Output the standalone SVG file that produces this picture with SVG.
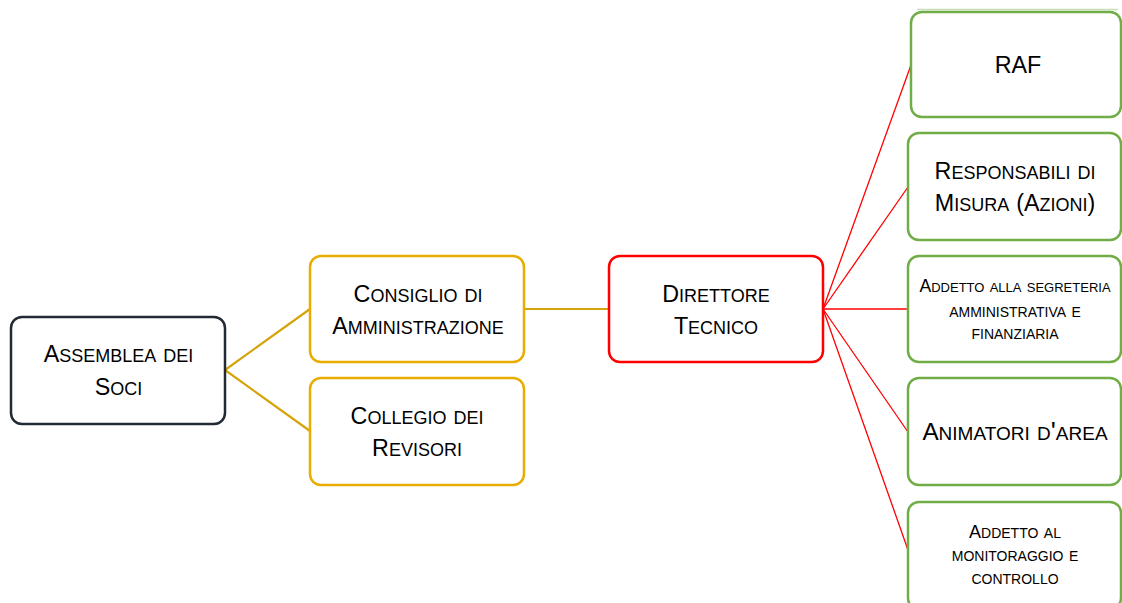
<svg xmlns="http://www.w3.org/2000/svg" width="1122" height="603" viewBox="0 0 1122 603">
  <style>
    .box { fill: #ffffff; stroke-width: 2.5; }
    .dark { stroke: #222a35; }
    .gold { stroke: #e8ad00; }
    .red { stroke: #ff0000; }
    .green { stroke: #70ad47; }
    .t { font-family: "Liberation Sans", Arial, sans-serif; font-variant: small-caps; text-anchor: middle; fill: #000000; font-size: 25.3px; }
    .t .c { font-size: 23.3px; }
    .ts { font-family: "Liberation Sans", Arial, sans-serif; font-variant: small-caps; text-anchor: middle; fill: #000000; font-size: 19.6px; }
    .ts .c { font-size: 18px; }
    .lg { stroke: #d6a40a; stroke-width: 2.2; fill: none; }
    .lr { stroke: #ff0000; stroke-width: 1.3; fill: none; }
  </style>
  <rect width="1122" height="603" fill="#ffffff"/>
  <g id="connectors">
    <path class="lg" d="M225 370 L310 309"/>
    <path class="lg" d="M225 370 L310 431"/>
    <path class="lg" d="M524 309 L609 309"/>
    <path class="lr" d="M823 309 L911 65"/>
    <path class="lr" d="M823 309 L908 187"/>
    <path class="lr" d="M823 309 L908 309"/>
    <path class="lr" d="M823 309 L908 432"/>
    <path class="lr" d="M823 309 L908 550"/>
  </g>
  <g id="assemblea">
    <rect class="box dark" x="11" y="317" width="214" height="107" rx="11"/>
    <text class="t" x="118.5" y="362"><tspan class="c">A</tspan>ssemblea dei</text>
    <text class="t" x="118.5" y="395"><tspan class="c">S</tspan>oci</text>
  </g>
  <g id="consiglio">
    <rect class="box gold" x="310" y="256" width="214" height="106" rx="11"/>
    <text class="t" x="418" y="301.5"><tspan class="c">C</tspan>onsiglio di</text>
    <text class="t" x="418" y="333.5"><tspan class="c">A</tspan>mministrazione</text>
  </g>
  <g id="collegio">
    <rect class="box gold" x="310" y="378" width="214" height="107" rx="11"/>
    <text class="t" x="417" y="424"><tspan class="c">C</tspan>ollegio dei</text>
    <text class="t" x="417" y="456"><tspan class="c">R</tspan>evisori</text>
  </g>
  <g id="direttore">
    <rect class="box red" x="609" y="256" width="214" height="106" rx="11"/>
    <text class="t" x="716" y="302"><tspan class="c">D</tspan>irettore</text>
    <text class="t" x="716" y="333.5"><tspan class="c">T</tspan>ecnico</text>
  </g>
  <g id="raf">
    <line x1="917" y1="9.5" x2="1118" y2="9.5" stroke="#c6dfb8" stroke-width="1.5"/>
    <rect class="box green" x="911" y="12" width="210" height="105" rx="11"/>
    <text class="t" x="1018" y="72.5"><tspan class="c">RAF</tspan></text>
  </g>
  <g id="responsabili">
    <rect class="box green" x="908" y="133" width="213" height="107" rx="11"/>
    <text class="t" x="1015" y="179"><tspan class="c">R</tspan>esponsabili di</text>
    <text class="t" x="1015" y="211"><tspan class="c">M</tspan>isura <tspan class="c">(A</tspan>zioni<tspan class="c">)</tspan></text>
  </g>
  <g id="segreteria">
    <rect class="box green" x="908" y="256" width="213" height="106" rx="11"/>
    <text class="ts" x="1015" y="292.3" style="font-size:19px"><tspan style="font-size:17.6px">A</tspan>ddetto alla segreteria</text>
    <text class="ts" x="1015" y="316.7" style="font-size:19.6px">amministrativa  e</text>
    <text class="ts" x="1015" y="339.3">finanziaria</text>
  </g>
  <g id="animatori">
    <rect class="box green" x="908" y="378" width="213" height="107" rx="11"/>
    <text class="t" x="1015" y="440" style="font-size:26.5px"><tspan style="font-size:24.3px">A</tspan>nimatori d'area</text>
  </g>
  <g id="monitoraggio">
    <rect class="box green" x="908" y="502" width="213" height="107" rx="11"/>
    <text class="ts" x="1015" y="538.3"><tspan class="c">A</tspan>ddetto al</text>
    <text class="ts" x="1015" y="561">monitoraggio e</text>
    <text class="ts" x="1015" y="584.3">controllo</text>
  </g>
</svg>
